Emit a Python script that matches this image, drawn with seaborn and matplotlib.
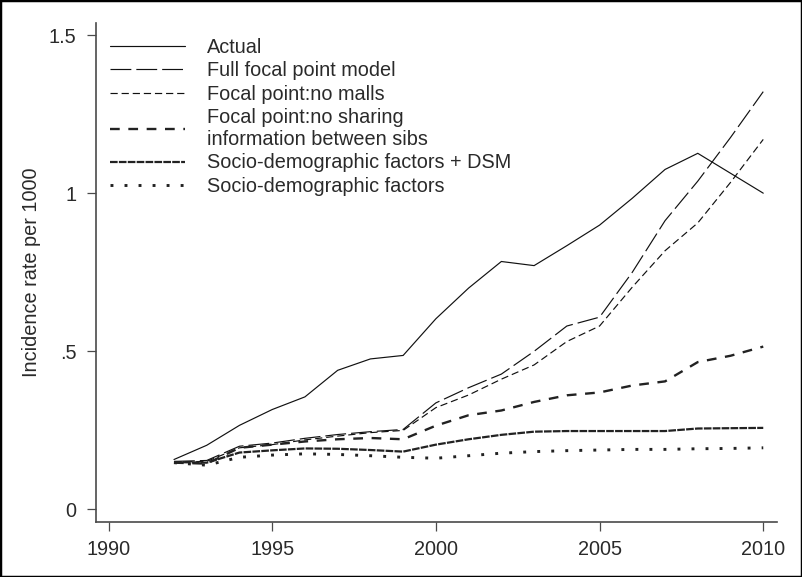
import matplotlib
matplotlib.use("Agg")
import matplotlib.pyplot as plt
from matplotlib.patches import Rectangle
import seaborn as sns
import pandas as pd

# Incidence rate per 1000 by year, observed and simulated scenarios
years = list(range(1992, 2011))

actual = [0.158, 0.203, 0.266, 0.316, 0.356, 0.440, 0.476, 0.487, 0.603, 0.700,
          0.784, 0.771, 0.834, 0.899, 0.984, 1.075, 1.126, 1.063, 1.000]
full_model = [0.152, 0.155, 0.200, 0.210, 0.225, 0.237, 0.246, 0.253, 0.337, 0.385,
              0.428, 0.500, 0.580, 0.608, 0.750, 0.913, 1.038, 1.176, 1.321]
no_malls = [0.150, 0.152, 0.195, 0.205, 0.220, 0.232, 0.243, 0.250, 0.322, 0.362,
            0.412, 0.457, 0.531, 0.580, 0.703, 0.818, 0.906, 1.034, 1.170]
no_sharing = [0.148, 0.145, 0.195, 0.205, 0.215, 0.222, 0.226, 0.222, 0.265, 0.298,
              0.313, 0.340, 0.361, 0.370, 0.392, 0.405, 0.466, 0.486, 0.515]
socio_dsm = [0.150, 0.148, 0.180, 0.187, 0.193, 0.192, 0.188, 0.183, 0.205, 0.222,
             0.236, 0.246, 0.248, 0.248, 0.248, 0.248, 0.256, 0.257, 0.258]
socio = [0.148, 0.140, 0.165, 0.172, 0.176, 0.174, 0.170, 0.165, 0.162, 0.170,
         0.178, 0.183, 0.186, 0.188, 0.190, 0.190, 0.192, 0.193, 0.195]

series_names = [
    "Actual",
    "Full focal point model",
    "Focal point:no malls",
    "Focal point:no sharing\ninformation between sibs",
    "Socio-demographic factors + DSM",
    "Socio-demographic factors",
]
series_values = [actual, full_model, no_malls, no_sharing, socio_dsm, socio]

x_ticks = [1990, 1995, 2000, 2005, 2010]
y_ticks = [0, 0.5, 1, 1.5]
y_tick_labels = ["0", ".5", "1", "1.5"]

# line styles: (linewidth in pt, dash pattern, colour)
styles = [
    (0.85, "solid", "#111111"),
    (0.85, (0, (15, 3.6)), "#111111"),
    (0.85, (0, (5.2, 2.8)), "#111111"),
    (1.7, (0, (7, 6.2)), "#222222"),
    (1.6, (0, (5.5, 0.9)), "#222222"),
    (2.1, (0, (2.1, 8.0)), "#222222"),
]

sns.set_style("ticks")
plt.rcParams["font.family"] = ["Liberation Sans", "DejaVu Sans"]
plt.rcParams["lines.scale_dashes"] = False

text_color = "#2a2a2a"
axis_color = "#4a4a4a"
fs = 14.3

fig = plt.figure(figsize=(8.02, 5.77), dpi=100)
ax = fig.add_axes([96 / 802, 1 - 521.7 / 577, (777 - 96) / 802, (521.7 - 23) / 577])

df = pd.DataFrame({"year": years})
for name, vals, (lw, ls, col) in zip(series_names, series_values, styles):
    df[name] = vals
    sns.lineplot(data=df, x="year", y=name, ax=ax, color=col, linewidth=lw,
                 linestyle=ls, label=name, dash_capstyle="butt",
                 solid_joinstyle="miter")

ax.set_xlim(1989.618, 2010.42)
ax.set_ylim(-0.0386, 1.538)
ax.set_xticks(x_ticks)
ax.set_xticklabels([str(t) for t in x_ticks])
ax.set_yticks(y_ticks)
ax.set_yticklabels(y_tick_labels)

for side in ("top", "right"):
    ax.spines[side].set_visible(False)
for side in ("left", "bottom"):
    ax.spines[side].set_color(axis_color)
    ax.spines[side].set_linewidth(1.2)

ax.tick_params(axis="both", direction="out", length=6.5, width=0.9,
               color=axis_color, labelsize=fs, labelcolor=text_color)
ax.tick_params(axis="y", pad=7.5)
ax.tick_params(axis="x", pad=6.5)

ax.set_xlabel("")
ax.set_ylabel("Incidence rate per 1000", fontsize=fs, color=text_color)
ax.yaxis.set_label_coords(-0.081, 0.5)

leg = ax.legend(loc="upper left", bbox_to_anchor=(110 / 802, 1 - 38 / 577),
                bbox_transform=fig.transFigure, frameon=False, fontsize=fs,
                handlelength=3.8, handletextpad=1.1, labelspacing=0.22,
                borderpad=0, borderaxespad=0)
for t in leg.get_texts():
    t.set_color(text_color)
    t.set_linespacing(1.2)

# outer frame around the whole figure
fig.patches.append(Rectangle((0, 0), 1, 1, transform=fig.transFigure,
                             fill=False, edgecolor="black", linewidth=2.5,
                             zorder=10))

fig.savefig("out.png", dpi=100)
